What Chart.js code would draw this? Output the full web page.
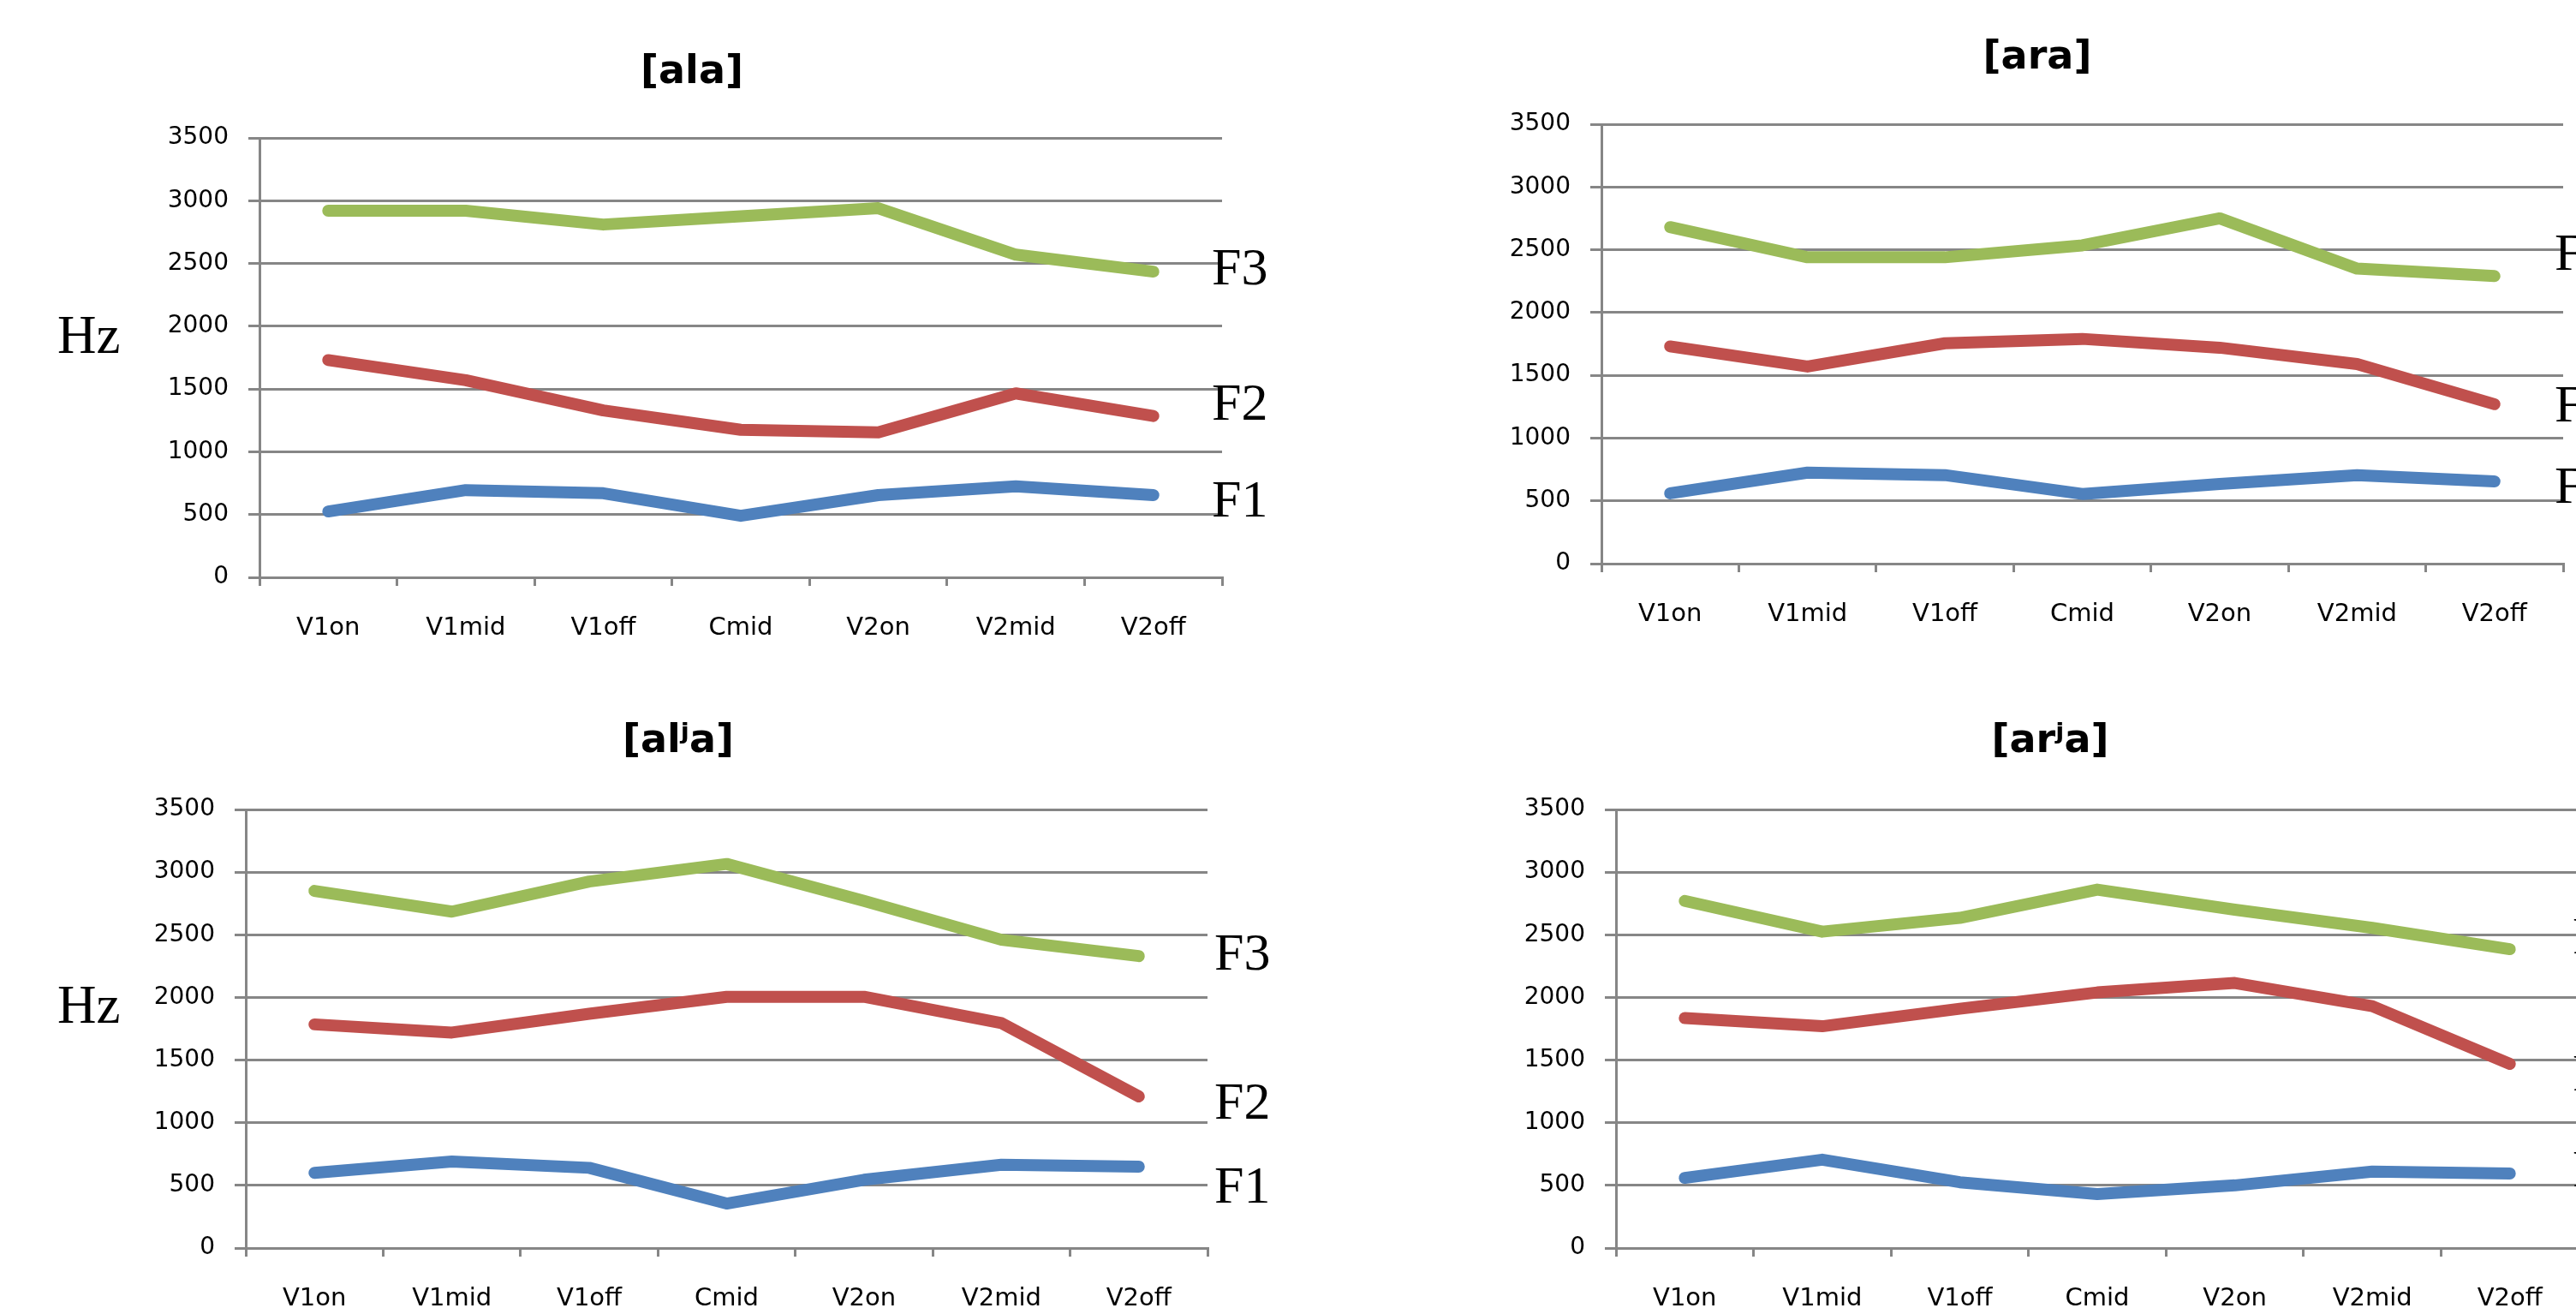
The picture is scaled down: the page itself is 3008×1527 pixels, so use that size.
<!DOCTYPE html>
<html>
<head>
<meta charset="utf-8">
<script src="https://cdn.jsdelivr.net/npm/chart.js@4.4.1/dist/chart.umd.min.js"></script>
<style>
  html, body { margin: 0; padding: 0; background: #fff; }
  body { width: 3008px; height: 1527px; overflow: hidden; position: relative; }
  canvas { position: absolute; }
</style>
</head>
<body>
<canvas id="c_ala"></canvas>
<canvas id="c_ara"></canvas>
<canvas id="c_alja"></canvas>
<canvas id="c_arja"></canvas>
<script>
// ---------- DATA ----------
const categories = ['V1on', 'V1mid', 'V1off', 'Cmid', 'V2on', 'V2mid', 'V2off'];
const yTickMin = 0;
const yTickMax = 3500;
const yTickStep = 500;
const seriesNames = ['F3', 'F2', 'F1'];
const panelTitles = ['[ala]', '[ara]', '[alʲa]', '[arʲa]'];

const ala_F3 = [2920, 2920, 2810, 2875, 2940, 2570, 2435];
const ala_F2 = [1730, 1570, 1330, 1175, 1155, 1465, 1285];
const ala_F1 = [525, 695, 670, 490, 655, 725, 655];

const ara_F3 = [2680, 2440, 2440, 2535, 2750, 2350, 2290];
const ara_F2 = [1730, 1570, 1755, 1790, 1720, 1590, 1270];
const ara_F1 = [560, 725, 705, 555, 635, 705, 655];

const alja_F3 = [2850, 2685, 2925, 3065, 2770, 2460, 2330];
const alja_F2 = [1785, 1720, 1870, 2005, 2005, 1795, 1210];
const alja_F1 = [600, 690, 640, 355, 545, 665, 650];

const arja_F3 = [2770, 2525, 2635, 2860, 2700, 2555, 2385];
const arja_F2 = [1835, 1770, 1910, 2040, 2115, 1930, 1470];
const arja_F1 = [560, 705, 525, 430, 500, 610, 595];

// ---------- STYLE / LAYOUT ----------
const COLORS = { F3: '#9BBB59', F2: '#C0504D', F1: '#4F81BD' };
const GRID = '#868686';
const Y_AXIS_W = 150;
const X_AXIS_H = 90;

const layouts = [
  { id: 'c_ala',  cx: 0,    cy: 0,   cw: 1504, ch: 780, L: 303,  R: 1427, T: 161, B: 674,
    title: { x: 808, y: 97 },   hz: { x: 67, y: 412 },  f: { x: 1415, y: [332, 490, 603] } },
  { id: 'c_ara',  cx: 1504, cy: 0,   cw: 1604, ch: 780, L: 1870, R: 2993, T: 145, B: 658,
    title: { x: 2379, y: 80 },  hz: null,               f: { x: 2983, y: [315, 492, 587] } },
  { id: 'c_alja', cx: 0,    cy: 780, cw: 1504, ch: 820, L: 287,  R: 1410, T: 945, B: 1457,
    title: { x: 792, y: 878 },  hz: { x: 67, y: 1194 }, f: { x: 1418, y: [1132, 1306, 1404] } },
  { id: 'c_arja', cx: 1504, cy: 780, cw: 1604, ch: 820, L: 1887, R: 3011, T: 945, B: 1457,
    title: { x: 2394, y: 878 }, hz: null,               f: { x: 3004, y: [1113, 1273, 1385] } }
];

const panelData = [
  [ala_F3, ala_F2, ala_F1],
  [ara_F3, ara_F2, ara_F1],
  [alja_F3, alja_F2, alja_F1],
  [arja_F3, arja_F2, arja_F1]
];

const textPlugin = {
  id: 'panelText',
  afterDraw(chart, args, opts) {
    const ctx = chart.ctx;
    for (const t of opts.items) {
      ctx.save();
      ctx.font = t.font;
      ctx.fillStyle = '#000';
      ctx.textAlign = t.align;
      ctx.textBaseline = 'alphabetic';
      ctx.fillText(t.text, t.x, t.y);
      ctx.restore();
    }
  }
};

layouts.forEach((lay, i) => {
  const canvas = document.getElementById(lay.id);
  canvas.width = lay.cw;
  canvas.height = lay.ch;
  canvas.style.left = lay.cx + 'px';
  canvas.style.top = lay.cy + 'px';
  canvas.style.width = lay.cw + 'px';
  canvas.style.height = lay.ch + 'px';

  const items = [];
  items.push({ text: panelTitles[i], x: lay.title.x - lay.cx, y: lay.title.y - lay.cy,
               font: 'bold 46px "DejaVu Sans"', align: 'center' });
  if (lay.hz) {
    items.push({ text: 'Hz', x: lay.hz.x - lay.cx, y: lay.hz.y - lay.cy,
                 font: '63px "Liberation Serif"', align: 'left' });
  }
  seriesNames.forEach((n, k) => {
    items.push({ text: n, x: lay.f.x - lay.cx, y: lay.f.y[k] - lay.cy,
                 font: '62px "Liberation Serif"', align: 'left' });
  });

  const datasets = seriesNames.map((n, k) => ({
    label: n,
    data: panelData[i][k],
    borderColor: COLORS[n],
    backgroundColor: COLORS[n],
    borderWidth: 14,
    borderCapStyle: 'round',
    borderJoinStyle: 'round',
    pointRadius: 0,
    pointHoverRadius: 0,
    tension: 0,
    fill: false
  }));

  new Chart(canvas, {
    type: 'line',
    data: { labels: categories, datasets },
    plugins: [textPlugin],
    options: {
      responsive: false,
      animation: false,
      devicePixelRatio: 1,
      layout: {
        padding: {
          left: lay.L - lay.cx - Y_AXIS_W,
          top: lay.T - lay.cy,
          right: lay.cx + lay.cw - lay.R,
          bottom: lay.cy + lay.ch - lay.B - X_AXIS_H
        }
      },
      plugins: {
        legend: { display: false },
        title: { display: false },
        tooltip: { enabled: false },
        panelText: { items }
      },
      scales: {
        x: {
          type: 'category',
          offset: true,
          afterFit: (s) => { s.height = X_AXIS_H; },
          grid: { display: true, drawOnChartArea: false, drawTicks: true, tickLength: 10,
                  offset: true, color: GRID, lineWidth: 3, tickColor: GRID, tickWidth: 3 },
          border: { display: true, color: GRID, width: 3 },
          ticks: { color: '#000', font: { family: 'DejaVu Sans', size: 29 }, padding: 32,
                   maxRotation: 0, minRotation: 0, autoSkip: false }
        },
        y: {
          min: yTickMin,
          max: yTickMax,
          afterFit: (s) => { s.width = Y_AXIS_W; },
          grid: { display: true, drawOnChartArea: true, drawTicks: true, tickLength: 13,
                  color: GRID, lineWidth: 3, tickColor: GRID, tickWidth: 3 },
          border: { display: true, color: GRID, width: 3 },
          ticks: { stepSize: yTickStep, color: '#000', font: { family: 'DejaVu Sans', size: 28 },
                   padding: 23, callback: (v) => String(v) }
        }
      }
    }
  });
});
</script>
</body>
</html>
